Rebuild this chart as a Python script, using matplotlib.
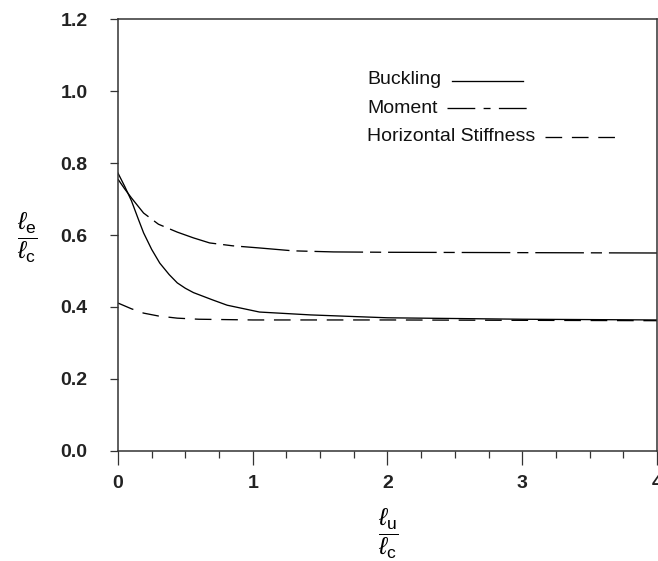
import matplotlib
matplotlib.use("Agg")
import matplotlib.pyplot as plt
from matplotlib.lines import Line2D
from matplotlib.ticker import MultipleLocator

plt.rcParams['font.family'] = ['Liberation Sans', 'DejaVu Sans']
plt.rcParams['mathtext.fontset'] = 'custom'
plt.rcParams['mathtext.rm'] = 'Liberation Sans'
plt.rcParams['mathtext.it'] = 'Liberation Sans:italic'
plt.rcParams['lines.scale_dashes'] = False

# values
buck_x = [0, 0.05, 0.1, 0.15, 0.19, 0.25, 0.31, 0.38, 0.44, 0.5, 0.56, 0.7, 0.81, 1.05, 1.43, 2.0, 2.5, 3.0, 3.5, 4.0]
buck_y = [0.772, 0.735, 0.695, 0.645, 0.606, 0.56, 0.522, 0.49, 0.467, 0.452, 0.44, 0.42, 0.405, 0.386, 0.378, 0.370, 0.368, 0.366, 0.365, 0.364]

mom_x = [0, 0.05, 0.1, 0.19, 0.3, 0.44, 0.56, 0.68, 0.85, 1.05, 1.3, 1.6, 2.0, 3.0, 4.0]
mom_y = [0.755, 0.728, 0.703, 0.661, 0.63, 0.608, 0.592, 0.578, 0.57, 0.564, 0.556, 0.553, 0.552, 0.551, 0.550]

hor_x = [0, 0.1, 0.19, 0.3, 0.44, 0.6, 0.8, 1.0, 2.0, 3.0, 4.0]
hor_y = [0.411, 0.395, 0.383, 0.375, 0.369, 0.366, 0.365, 0.364, 0.364, 0.363, 0.362]

names = ["Buckling", "Moment", "Horizontal Stiffness"]
x_ticks = [0, 1, 2, 3, 4]
y_ticks = [0.0, 0.2, 0.4, 0.6, 0.8, 1.0, 1.2]

dash_mom = (0, (35, 5, 8, 5))
dash_hor = (0, (12, 7))

fig = plt.figure(figsize=(6.58, 5.61), dpi=100)
ax = fig.add_axes([0.1793, 0.1961, 0.8192, 0.77])

lw = 0.95
ax.plot(buck_x, buck_y, c='k', lw=lw)
ax.plot(mom_x, mom_y, c='k', lw=lw, ls=dash_mom)
ax.plot(hor_x, hor_y, c='k', lw=lw, ls=dash_hor)

ax.set_xlim(0, 4)
ax.set_ylim(0, 1.2)
ax.set_xticks(x_ticks)
ax.xaxis.set_minor_locator(MultipleLocator(0.25))
ax.set_yticks(y_ticks)
ax.set_yticklabels([f'{v:.1f}' for v in y_ticks])

for s in ax.spines.values():
    s.set_linewidth(1.1)
    s.set_color('#333333')

ax.tick_params(axis='x', which='major', direction='out', length=10, width=0.9,
               pad=7, labelsize=14, colors='#333333', labelcolor='#222222')
ax.tick_params(axis='x', which='minor', direction='out', length=5, width=0.9,
               colors='#333333')
ax.tick_params(axis='y', which='major', direction='out', length=6, width=0.9,
               pad=16, labelsize=14, colors='#333333', labelcolor='#222222')
for t in ax.get_xticklabels() + ax.get_yticklabels():
    t.set_fontweight('bold')

ax.set_ylabel(r'$\dfrac{\ell_\mathrm{e}}{\ell_\mathrm{c}}$', rotation=0, fontsize=18,
              ha='center', va='center')
ax.yaxis.set_label_coords(-0.169, 0.493)
ax.set_xlabel(r'$\dfrac{\ell_\mathrm{u}}{\ell_\mathrm{c}}$', fontsize=18, va='center')
ax.xaxis.set_label_coords(0.501, -0.193)

# legend drawn as text with a line sample after each name
text_y = [0.861, 0.794, 0.729]
seg = [(0.620, 0.751, 0.856, '-'), (0.610, 0.759, 0.794, (0, (20, 6, 5, 6))),
       (0.792, 0.926, 0.727, (0, (12, 7)))]
for name, ty, (x0, x1, ly, st) in zip(names, text_y, seg):
    ax.text(0.462, ty, name, transform=ax.transAxes, fontsize=14,
            ha='left', va='center', color='#111111')
    ax.add_line(Line2D([x0, x1], [ly, ly], transform=ax.transAxes, color='k',
                       lw=lw, ls=st))

fig.savefig("out.png", dpi=100)
